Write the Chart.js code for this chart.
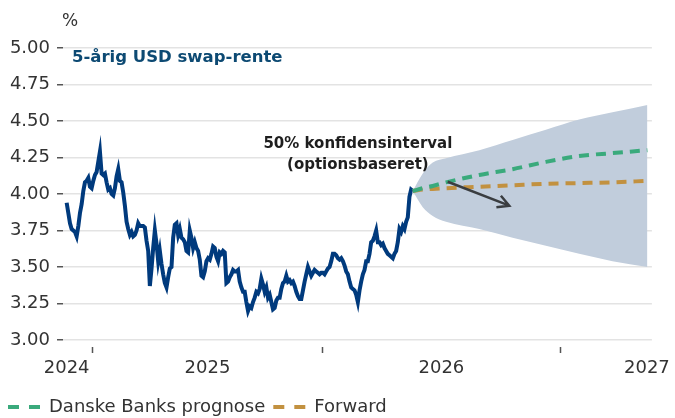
<!DOCTYPE html>
<html lang="da">
<head>
<meta charset="UTF-8">
<title>5-årig USD swap-rente</title>
<script src="https://cdn.jsdelivr.net/npm/chart.js"></script>
<style>
  html, body { margin: 0; padding: 0; background: #fff; }
</style>
</head>
<body>
<canvas id="swapChart" width="675" height="418"></canvas>

<script>
// historisk 5-årig USD swap-rente, aflæst med jævne mellemrum
const histRate = [
  3.94, 3.87, 3.80, 3.76, 3.75, 3.74, 3.71, 3.78, 3.87, 3.93,
  4.02, 4.08, 4.09, 4.11, 4.05, 4.04, 4.09, 4.13, 4.15, 4.22,
  4.29, 4.14, 4.13, 4.14, 4.08, 4.03, 4.04, 4.00, 3.99, 4.04,
  4.12, 4.17, 4.09, 4.08, 4.01, 3.92, 3.81, 3.76, 3.72, 3.74,
  3.71, 3.72, 3.75, 3.80, 3.78, 3.78, 3.78, 3.77,
  3.68, 3.61, 3.37, 3.49, 3.63, 3.75, 3.66, 3.54, 3.61, 3.52,
  3.45, 3.39, 3.36, 3.43, 3.49, 3.50, 3.70, 3.79, 3.80, 3.72,
  3.76, 3.70, 3.69, 3.67, 3.61, 3.60, 3.75, 3.70, 3.63, 3.67,
  3.63, 3.61, 3.55, 3.44, 3.43, 3.47, 3.54, 3.56, 3.55, 3.59,
  3.64, 3.63, 3.57, 3.54, 3.60, 3.59, 3.61, 3.60, 3.39, 3.40,
  3.43, 3.45, 3.48, 3.47,
  3.47, 3.48, 3.40, 3.36, 3.33, 3.33, 3.26, 3.20, 3.23, 3.22,
  3.26, 3.29, 3.33, 3.32, 3.35, 3.42, 3.38, 3.33, 3.36, 3.29,
  3.31, 3.26, 3.21, 3.22, 3.27, 3.29, 3.29, 3.35, 3.39, 3.40,
  3.44, 3.40, 3.41, 3.39, 3.40, 3.37, 3.33, 3.30, 3.28, 3.28,
  3.34, 3.40, 3.45, 3.50, 3.47, 3.44, 3.46, 3.48, 3.47, 3.46,
  3.45, 3.46,
  3.46, 3.45, 3.47, 3.49, 3.50, 3.54, 3.59, 3.59, 3.58, 3.56,
  3.55, 3.56, 3.54, 3.51, 3.47, 3.45, 3.40, 3.36, 3.35, 3.34,
  3.31, 3.26, 3.34, 3.40, 3.45, 3.48, 3.54, 3.54, 3.59, 3.67,
  3.68, 3.71, 3.75, 3.67, 3.67, 3.65, 3.66, 3.63, 3.61, 3.59,
  3.58, 3.57, 3.56, 3.59, 3.61, 3.67, 3.76, 3.74, 3.78, 3.76,
  3.81, 3.84, 3.98, 4.03, 4.02
];

// prognoseperioden (samme tidsakse som historikken)
const fcX      = [208, 214, 220, 228, 248, 268, 288, 308, 328, 349];
const prognose = [4.02, 4.04, 4.055, 4.08, 4.13, 4.17, 4.22, 4.26, 4.28, 4.30];
const forward  = [4.02, 4.03, 4.035, 4.04, 4.05, 4.06, 4.07, 4.075, 4.08, 4.09];
const bandHigh = [4.02, 4.14, 4.215, 4.245, 4.30, 4.37, 4.44, 4.51, 4.56, 4.61];
const bandLow  = [4.02, 3.91, 3.85, 3.81, 3.76, 3.70, 3.645, 3.59, 3.54, 3.50];

// akser
const yearTicks   = [15.4, 153.9, 296.6];
const yearLabels  = ['2024', '2025', '2026', '2027'];
const yearLabelAt = [0, 84.6, 225.2, 348.7];
const xMin = -2.2, xMax = 351.7;

const pts = (xs, ys) => xs.map((x, i) => ({ x: x, y: ys[i] }));

Chart.defaults.font.family = "'DejaVu Sans', sans-serif";
Chart.defaults.font.size = 18;
Chart.defaults.color = '#333';

// titel, enhed, annotation og pil
const overlay = {
  id: 'overlay',
  afterDatasetsDraw(chart) {
    const { ctx, chartArea, scales: { x, y } } = chart;
    ctx.save();
    ctx.fillStyle = '#333';
    ctx.font = "17px 'DejaVu Sans'";
    ctx.textAlign = 'center';
    ctx.textBaseline = 'middle';
    ctx.fillText('%', chartArea.left + 7, 22);

    ctx.fillStyle = '#0d4a73';
    ctx.font = "bold 16.5px 'DejaVu Sans'";
    ctx.textAlign = 'left';
    ctx.textBaseline = 'alphabetic';
    ctx.fillText('5-årig USD swap-rente', chartArea.left + 9, 62);

    ctx.fillStyle = '#1e1e1e';
    ctx.font = "bold 15px 'DejaVu Sans'";
    ctx.textAlign = 'center';
    ctx.textBaseline = 'middle';
    const tx = x.getPixelForValue(175);
    ctx.fillText('50% konfidensinterval', tx, y.getPixelForValue(4.345));
    ctx.fillText('(optionsbaseret)', tx, y.getPixelForValue(4.195));

    const x1 = x.getPixelForValue(229), y1 = y.getPixelForValue(4.084);
    const x2 = x.getPixelForValue(266), y2 = y.getPixelForValue(3.92);
    const a = Math.atan2(y2 - y1, x2 - x1);
    ctx.strokeStyle = '#3a3d40';
    ctx.lineWidth = 2.5;
    ctx.beginPath();
    ctx.moveTo(x1, y1);
    ctx.lineTo(x2, y2);
    ctx.moveTo(x2 - 13 * Math.cos(a - 0.5), y2 - 13 * Math.sin(a - 0.5));
    ctx.lineTo(x2, y2);
    ctx.lineTo(x2 - 13 * Math.cos(a + 0.5), y2 - 13 * Math.sin(a + 0.5));
    ctx.stroke();
    ctx.restore();
  }
};

const ctx = document.getElementById('swapChart').getContext('2d');
new Chart(ctx, {
  type: 'line',
  data: {
    datasets: [
      {
        label: 'Danske Banks prognose',
        data: pts(fcX, prognose),
        borderColor: '#3aaa7c',
        borderWidth: 4,
        borderDash: [10, 7],
        pointRadius: 0,
        cubicInterpolationMode: 'monotone',
        fill: false
      },
      {
        label: 'Forward',
        data: pts(fcX, forward),
        borderColor: '#c29140',
        borderWidth: 4,
        borderDash: [10, 7],
        pointRadius: 0,
        cubicInterpolationMode: 'monotone',
        fill: false
      },
      {
        label: 'Historik',
        data: histRate.map((v, i) => ({ x: i, y: v })),
        borderColor: '#003a7d',
        borderWidth: 4,
        pointRadius: 0,
        tension: 0,
        fill: false
      },
      {
        label: 'Konfidensinterval top',
        data: pts(fcX, bandHigh),
        borderWidth: 0,
        borderColor: 'transparent',
        backgroundColor: '#c1cddc',
        pointRadius: 0,
        cubicInterpolationMode: 'monotone',
        fill: '+1'
      },
      {
        label: 'Konfidensinterval bund',
        data: pts(fcX, bandLow),
        borderWidth: 0,
        borderColor: 'transparent',
        pointRadius: 0,
        cubicInterpolationMode: 'monotone',
        fill: false
      }
    ]
  },
  options: {
    responsive: false,
    animation: false,
    layout: { padding: { top: 48, right: 22, left: 0, bottom: -8 } },
    scales: {
      x: {
        type: 'linear',
        min: xMin,
        max: xMax,
        weight: 0,
        border: { display: false },
        grid: {
          drawOnChartArea: false,
          tickLength: 13,
          tickColor: '#555',
          tickWidth: 1.5,
          tickBorderDash: [0, 7, 6, 20]
        },
        ticks: { display: false },
        afterBuildTicks: s => { s.ticks = yearTicks.map(v => ({ value: v })); }
      },
      x2: {
        type: 'linear',
        position: 'bottom',
        min: xMin,
        max: xMax,
        weight: 1,
        border: { display: false },
        grid: { display: false, drawTicks: false },
        ticks: {
          padding: 5,
          autoSkip: false,
          maxRotation: 0,
          color: '#333',
          callback: (v, i) => yearLabels[i]
        },
        afterBuildTicks: s => { s.ticks = yearLabelAt.map(v => ({ value: v })); },
        afterFit: s => { s.height = 37; }
      },
      y: {
        min: 3,
        max: 5,
        border: { display: false },
        grid: { color: '#e3e3e3', lineWidth: 1.5, tickColor: '#555', tickLength: 6, tickWidth: 1.5 },
        ticks: { stepSize: 0.25, padding: 7, color: '#333', callback: v => v.toFixed(2) },
        afterFit: s => { s.width = 63; }
      }
    },
    plugins: {
      tooltip: { enabled: false },
      legend: {
        position: 'bottom',
        align: 'start',
        labels: {
          usePointStyle: true,
          pointStyleWidth: 32,
          padding: 8,
          color: '#333',
          generateLabels: chart => Chart.defaults.plugins.legend.labels.generateLabels(chart)
            .filter(l => l.datasetIndex < 2)
            .map(l => Object.assign(l, { pointStyle: 'line', lineDash: [11, 10], lineWidth: 4 }))
        }
      }
    }
  },
  plugins: [overlay]
});
</script>
</body>
</html>
